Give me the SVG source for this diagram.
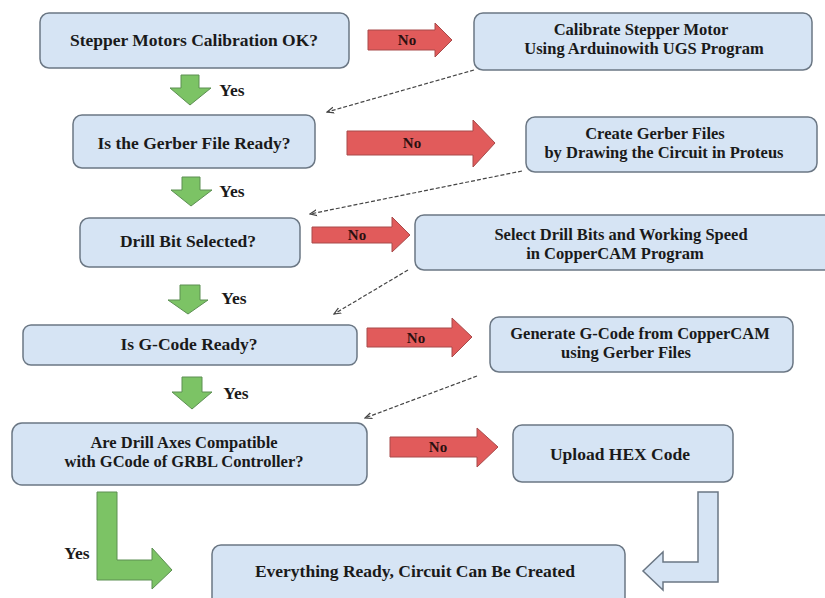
<svg xmlns="http://www.w3.org/2000/svg" width="825" height="598" viewBox="0 0 825 598">
<style>
.box{fill:#d6e4f4;stroke:#6b7784;stroke-width:1.5}
.t{font-family:"Liberation Serif","Times New Roman",serif;font-weight:bold;font-size:17.5px;fill:#1a1a1a;text-anchor:middle}
.t2{font-family:"Liberation Serif","Times New Roman",serif;font-weight:bold;font-size:16.5px;fill:#1a1a1a;text-anchor:middle}
.no{font-family:"Liberation Serif","Times New Roman",serif;font-weight:bold;font-size:15px;fill:#2a1010;text-anchor:middle}
.red{fill:#e15b5b;stroke:#a84a4a;stroke-width:1}
.grn{fill:#7cc365;stroke:#5c8f52;stroke-width:1}
.blu{fill:#d6e4f4;stroke:#6b7784;stroke-width:1.5}
.dash{fill:none;stroke:#444;stroke-width:1.2;stroke-dasharray:4 2;marker-end:url(#ah)}
</style>
<defs>
<marker id="ah" markerWidth="8" markerHeight="8" refX="7" refY="4" orient="auto" markerUnits="userSpaceOnUse">
<path d="M0,1 L7,4 L0,7" fill="none" stroke="#444" stroke-width="1.2"/>
</marker>
</defs>
<rect width="825" height="598" fill="#ffffff"/>

<g id="connectors">
<path class="red" d="M368,30 H435 V23 L452,40 L435,57 V50 H368 Z"/>
<text class="no" x="407" y="45">No</text>
<path class="red" d="M347,131 H473 V120 L495,143 L473,167 V155 H347 Z"/>
<text class="no" x="412" y="148">No</text>
<path class="red" d="M312,227 H392 V217 L410,235 L392,252 V243 H312 Z"/>
<text class="no" x="357" y="240">No</text>
<path class="red" d="M367,328 H452 V318 L472,337 L452,357 V347 H367 Z"/>
<text class="no" x="416" y="343">No</text>
<path class="red" d="M390,437 H477 V428 L498,447 L477,467 V457 H390 Z"/>
<text class="no" x="438" y="452">No</text>

<path class="grn" d="M181,75 H199 V88 H211 L190,105 L170,88 H181 Z"/>
<text class="t" x="232" y="96">Yes</text>
<path class="grn" d="M182,177 H200 V190 H212 L191,206 L171,190 H182 Z"/>
<text class="t" x="232" y="197">Yes</text>
<path class="grn" d="M180,285 H200 V300 H208 L188,314 L168,300 H180 Z"/>
<text class="t" x="234" y="304">Yes</text>
<path class="grn" d="M182,377 H202 V392 H212 L192,409 L172,392 H182 Z"/>
<text class="t" x="236" y="399">Yes</text>

<path class="grn" d="M97,492 H117 V560 H152 V548 L172,570 L152,589 V580 H97 Z"/>
<text class="t" x="77" y="559">Yes</text>
<path class="blu" d="M698,492 H718 V582 H663 V590 L643,571 L663,552 V562 H698 Z"/>

<path class="dash" d="M474,70 L327,112"/>
<path class="dash" d="M522,171 L310,214"/>
<path class="dash" d="M408,270 L334,314"/>
<path class="dash" d="M477,376 L365,418"/>
</g>

<g id="n1"><rect class="box" x="40" y="13" width="309" height="55" rx="9"/>
<text class="t" x="194" y="46">Stepper Motors Calibration OK?</text></g>
<g id="n2"><rect class="box" x="474" y="13" width="338" height="57" rx="9"/>
<text class="t2" x="641" y="35">Calibrate Stepper Motor</text>
<text class="t2" x="644" y="54">Using Arduinowith UGS Program</text></g>
<g id="n3"><rect class="box" x="73" y="115" width="242" height="53" rx="9"/>
<text class="t" x="194" y="149">Is the Gerber File Ready?</text></g>
<g id="n4"><rect class="box" x="526" y="117" width="291" height="55" rx="9"/>
<text class="t2" x="655" y="139">Create Gerber Files</text>
<text class="t2" x="664" y="158">by Drawing the Circuit in Proteus</text></g>
<g id="n5"><rect class="box" x="80" y="218" width="220" height="49" rx="9"/>
<text class="t" x="188" y="247">Drill Bit Selected?</text></g>
<g id="n6"><rect class="box" x="415" y="215" width="420" height="55" rx="9"/>
<text class="t2" x="621" y="240">Select Drill Bits and Working Speed</text>
<text class="t2" x="615" y="259">in CopperCAM Program</text></g>
<g id="n7"><rect class="box" x="23" y="325" width="334" height="40" rx="8"/>
<text class="t" x="189" y="350">Is G-Code Ready?</text></g>
<g id="n8"><rect class="box" x="490" y="317" width="303" height="55" rx="9"/>
<text class="t2" x="640" y="339">Generate G-Code from CopperCAM</text>
<text class="t2" x="626" y="358">using Gerber Files</text></g>
<g id="n9"><rect class="box" x="12" y="423" width="355" height="62" rx="10"/>
<text class="t2" x="184" y="448">Are Drill Axes Compatible</text>
<text class="t2" x="184" y="467">with GCode of GRBL Controller?</text></g>
<g id="n10"><rect class="box" x="513" y="425" width="220" height="57" rx="9"/>
<text class="t" x="620" y="460">Upload HEX Code</text></g>
<g id="n11"><rect class="box" x="212" y="545" width="413" height="70" rx="9"/>
<text class="t" x="415" y="577">Everything Ready, Circuit Can Be Created</text></g>
</svg>
